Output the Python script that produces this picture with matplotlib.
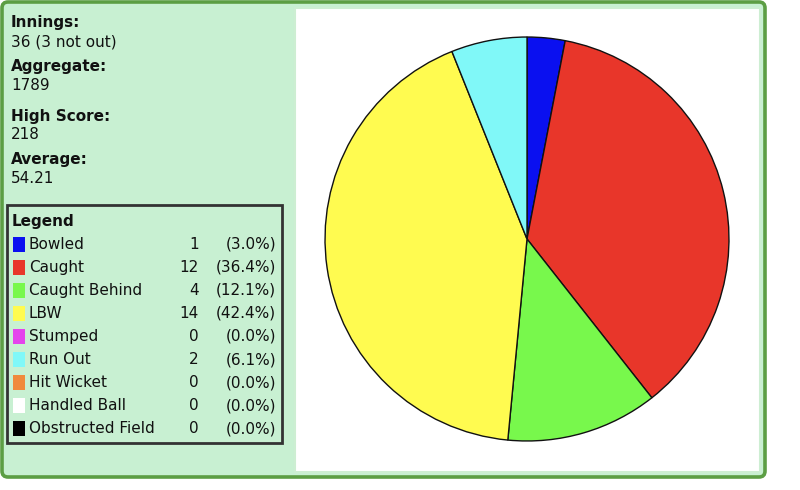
import matplotlib
matplotlib.use("Agg")
import matplotlib.pyplot as plt
from matplotlib.patches import Rectangle, FancyBboxPatch

# ---- data ----
stat_labels = ["Innings:", "Aggregate:", "High Score:", "Average:"]
stat_values = ["36 (3 not out)", "1789", "218", "54.21"]
categories = ["Bowled", "Caught", "Caught Behind", "LBW", "Stumped",
              "Run Out", "Hit Wicket", "Handled Ball", "Obstructed Field"]
counts = [1, 12, 4, 14, 0, 2, 0, 0, 0]
colors = ["#0a10f0", "#e8362a", "#78f84c", "#fffb50", "#e444ec",
          "#80f8f8", "#f08a3c", "#ffffff", "#000000"]

W, H = 800, 490
fig = plt.figure(figsize=(W / 100, H / 100), dpi=100)
fig.patch.set_facecolor("white")

bg = fig.add_axes([0, 0, 1, 1])
bg.set_xlim(0, W)
bg.set_ylim(H, 0)
bg.axis("off")

panel_green = "#c8f0d2"
# outer rounded border
bg.add_patch(FancyBboxPatch((2, 2), 763, 475, boxstyle="round,pad=0,rounding_size=6",
                            facecolor=panel_green, edgecolor="#5c9e44", linewidth=2.6))
# white chart panel
bg.add_patch(Rectangle((295, 8), 465, 464, facecolor="white",
                       edgecolor="#cdeed2", linewidth=1.5))

fs = 11
tc = "#111111"
ys = [(22, 42), (67, 86), (116, 134), (159, 178)]
for (lab, val), (y1, y2) in zip(zip(stat_labels, stat_values), ys):
    bg.text(11, y1, lab, fontsize=fs, fontweight="bold", va="center", ha="left",
            color=tc)
    bg.text(11, y2, val, fontsize=fs, va="center", ha="left", color=tc)

# legend box
bg.add_patch(Rectangle((7, 205), 275, 238, facecolor="none",
                       edgecolor="#333333", linewidth=2.0))
bg.text(12, 221, "Legend", fontsize=fs, fontweight="bold", va="center", ha="left",
        color=tc)
total = sum(counts)
row0, dy = 244, 23.1
for i, (cat, c, col) in enumerate(zip(categories, counts, colors)):
    y = row0 + i * dy
    bg.add_patch(Rectangle((13, y - 7.5), 12, 15, facecolor=col, edgecolor="none"))
    bg.text(29, y, cat, fontsize=fs, va="center", ha="left", color=tc)
    bg.text(199, y, str(c), fontsize=fs, va="center", ha="right", color=tc)
    bg.text(276, y, f"({c / total * 100:.1f}%)", fontsize=fs, va="center",
            ha="right", color=tc)

# pie
cx, cy, r = 527, 239, 204
pax = fig.add_axes([(cx - r) / W, (H - cy - r) / H, 2 * r / W, 2 * r / H])
vals = [v for v in counts if v > 0]
cols = [col for v, col in zip(counts, colors) if v > 0]
pax.pie(vals, colors=cols, startangle=90, counterclock=False, radius=1,
        wedgeprops=dict(edgecolor="#111111", linewidth=1.0))
pax.set_xlim(-1.01, 1.01)
pax.set_ylim(-1.01, 1.01)
pax.set_aspect("equal")
pax.axis("off")

fig.savefig("out.png", dpi=100, facecolor="white")
